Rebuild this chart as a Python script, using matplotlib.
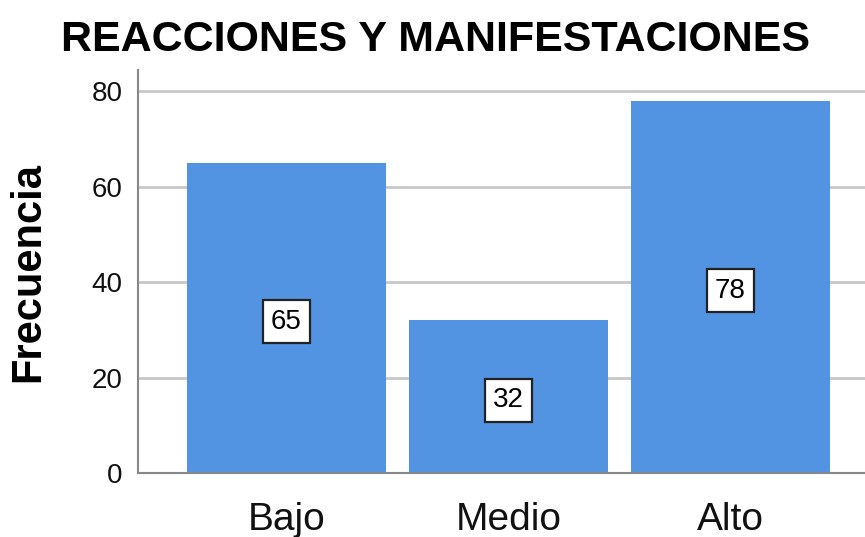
import matplotlib.pyplot as plt

plt.rcParams["font.family"] = ["Liberation Sans", "DejaVu Sans"]

categories = ["Bajo", "Medio", "Alto"]
frecuencia = [65, 32, 78]
y_ticks = [0, 20, 40, 60, 80]

bar_color = "#5294E2"

fig = plt.figure(figsize=(8.65, 5.37), dpi=100)
ax = fig.add_axes([0.1595, 0.1192, 0.8405, 0.7504])

pos = list(range(len(categories)))
bars = ax.bar(pos, frecuencia, width=0.9, color=bar_color, zorder=2)

for x, v in zip(pos, frecuencia):
    ax.text(
        x, v / 2 - 0.8, str(v), ha="center", va="center", fontsize=20, zorder=3,
        bbox=dict(boxstyle="square,pad=0.3", facecolor="white",
                  edgecolor="#222222", linewidth=1.6),
    )

ax.set_xlim(-0.669, 2.606)
ax.set_ylim(0, 84.4)
ax.set_yticks(y_ticks)
ax.set_xticks(pos)
ax.set_xticklabels(categories)
ax.tick_params(axis="x", length=0, pad=21, labelsize=28, labelcolor="#111111")
ax.tick_params(axis="y", length=0, pad=11, labelsize=20, labelcolor="#111111")
ax.yaxis.grid(True, color="#C8C8C8", linewidth=2, zorder=0)
ax.set_axisbelow(True)

for side in ["top", "right"]:
    ax.spines[side].set_visible(False)
for side in ["left", "bottom"]:
    ax.spines[side].set_color("#888888")
    ax.spines[side].set_linewidth(1.5)

ax.set_ylabel("Frecuencia", fontsize=30, fontweight="bold", labelpad=31)
fig.text(0.503, 0.926, "REACCIONES Y MANIFESTACIONES", ha="center", va="center",
         fontsize=31, fontweight="bold")

fig.savefig("out.png", dpi=100)
